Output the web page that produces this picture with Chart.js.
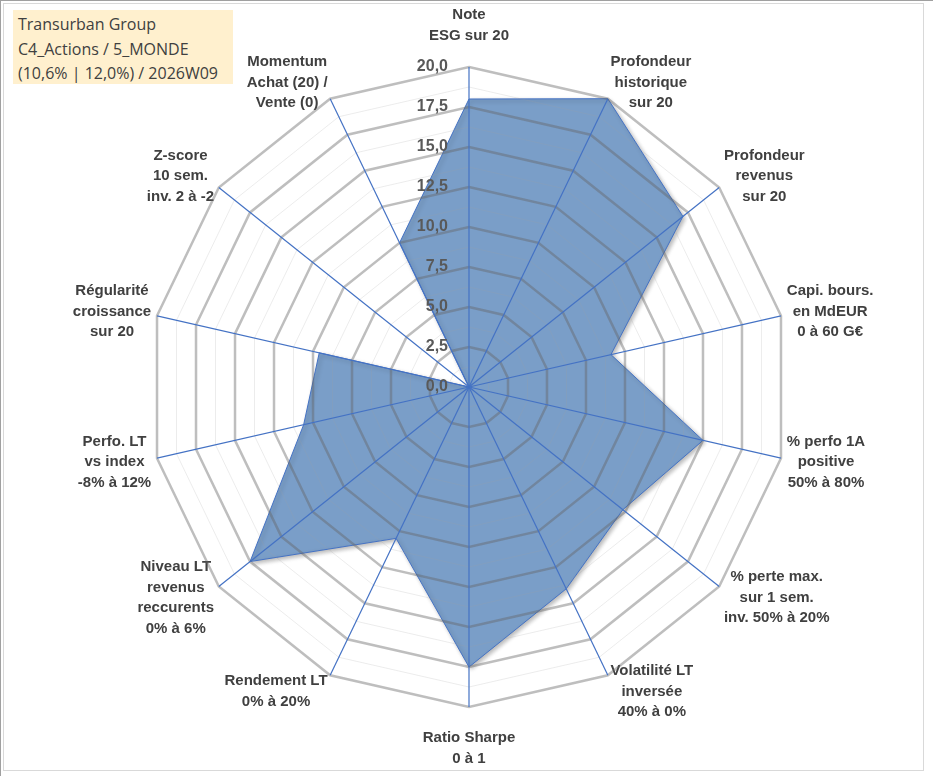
<!DOCTYPE html>
<html lang="fr">
<head>
<meta charset="utf-8">
<title>Transurban Group - radar</title>
<script src="https://cdn.jsdelivr.net/npm/chart.js@4.4.1/dist/chart.umd.min.js"></script>
<style>
  html, body { margin: 0; padding: 0; background: #fff; }
  #page { position: relative; width: 933px; height: 776px; overflow: hidden; }
  #radar { position: absolute; left: 0; top: 0; }
  #outer { position: absolute; left: 0; top: 0; width: 940px; height: 775px;
           border-left: 1px solid #a0a0a0; border-top: 1px solid #a0a0a0; border-bottom: 1px solid #a0a0a0; pointer-events: none; }
  #inner { position: absolute; left: 3px; top: 3px; width: 919px; height: 766px;
           border: 1px solid #d9d9d9; pointer-events: none; }
  #title { position: absolute; left: 13px; top: 10px; width: 220px; height: 74px; box-sizing: border-box;
           padding: 2px 0 0 5px; background: #fff0ce; color: #404040;
           font-family: "Open Sans", sans-serif; font-size: 16px; line-height: 24.5px; white-space: nowrap; }
</style>
</head>
<body>
<div id="page">
  <canvas id="radar" width="933" height="776"></canvas>
  <div id="outer"></div>
  <div id="inner"></div>
  <div id="title"></div>
</div>
<script>
  const titleLines = ["Transurban Group", "C4_Actions / 5_MONDE", "(10,6% | 12,0%) / 2026W09"];

  const axisLabels = [
    ["Note", "ESG sur 20"],
    ["Profondeur", "historique", "sur 20"],
    ["Profondeur", "revenus", "sur 20"],
    ["Capi. bours.", "en MdEUR", "0 à 60 G€"],
    ["% perfo 1A", "positive", "50% à 80%"],
    ["% perte max.", "sur 1 sem.", "inv. 50% à 20%"],
    ["Volatilité LT", "inversée", "40% à 0%"],
    ["Ratio Sharpe", "0 à 1"],
    ["Rendement LT", "0% à 20%"],
    ["Niveau LT", "revenus", "reccurents", "0% à 6%"],
    ["Perfo. LT", "vs index", "-8% à 12%"],
    ["Régularité", "croissance", "sur 20"],
    ["Z-score", "10 sem.", "inv. 2 à -2"],
    ["Momentum", "Achat (20) /", "Vente (0)"],
  ];
  const scoreValues = [18, 20, 17.1, 9.1, 15, 12.3, 14, 17.5, 10.5, 17.5, 10.6, 9.6, 0, 10];

  const scaleMin = 0;
  const scaleMax = 20;
  const majorStep = 2.5;
  const minorStep = 1.25;

  // where the radar sits in the picture
  const CENTER_X = 469;
  const CENTER_Y = 387;
  const RADIUS = 320;

  document.getElementById("title").innerHTML = titleLines.map((t) => `<div>${t}</div>`).join("");

  const isMajor = (v) => Math.abs(v / majorStep - Math.round(v / majorStep)) < 1e-6;
  const formatTick = (v) => v.toFixed(1).replace(".", ",");

  // pin the scale geometry, then put each label block next to its axis end (Excel style)
  function placeScale(scale) {
    scale.xCenter = CENTER_X;
    scale.yCenter = CENTER_Y;
    scale.drawingArea = RADIUS;
    const n = scale._pointLabels.length;
    (scale._pointLabelItems || []).forEach((item, i) => {
      const w = item.right - item.left;
      const h = item.bottom - item.top;
      const a = (Math.PI * 2 * i) / n;
      const sin = Math.sin(a);
      const cos = Math.cos(a);
      let cx, cy;
      if (Math.abs(sin) < 1e-6) {
        const p = scale.getPointPosition(i, RADIUS + 21);
        cx = p.x;
        cy = p.y - (cos * h) / 2;
      } else {
        const p = scale.getPointPosition(i, RADIUS + 6);
        cx = p.x + (Math.sign(sin) * w) / 2;
        cy = p.y - cos * 12;
      }
      Object.assign(item, {
        x: cx,
        y: cy - h / 2,
        textAlign: "center",
        left: cx - w / 2,
        right: cx + w / 2,
        top: cy - h / 2,
        bottom: cy + h / 2,
      });
    });
  }

  // value labels sit left of the vertical axis, right aligned, on top of everything
  const tickLabels = {
    id: "tickLabels",
    afterDraw(chart) {
      const scale = chart.scales.r;
      const ctx = chart.ctx;
      ctx.save();
      ctx.font = "bold 16px 'Liberation Sans'";
      ctx.fillStyle = "#595959";
      ctx.textAlign = "right";
      ctx.textBaseline = "middle";
      scale.ticks.forEach((tick) => {
        if (!isMajor(tick.value)) return;
        const d = scale.getDistanceFromCenterForValue(tick.value);
        ctx.fillText(formatTick(tick.value), scale.xCenter - 21, scale.yCenter - d);
      });
      ctx.restore();
    },
  };

  const polygonShadow = {
    id: "polygonShadow",
    beforeDatasetsDraw(chart) {
      const ctx = chart.ctx;
      ctx.save();
      ctx.shadowColor = "rgba(0,0,0,0.28)";
      ctx.shadowBlur = 4;
      ctx.shadowOffsetX = 2;
      ctx.shadowOffsetY = 2;
    },
    afterDatasetsDraw(chart) {
      chart.ctx.restore();
    },
  };

  new Chart(document.getElementById("radar"), {
    type: "radar",
    data: {
      labels: axisLabels,
      datasets: [
        {
          data: scoreValues,
          backgroundColor: "rgb(122,158,200)",
          borderColor: "#4472C4",
          borderWidth: 1,
          pointRadius: 0,
          tension: 0,
          fill: true,
        },
      ],
    },
    options: {
      responsive: false,
      animation: false,
      devicePixelRatio: 1,
      layout: { padding: 0 },
      plugins: {
        legend: { display: false },
        tooltip: { enabled: false },
      },
      scales: {
        r: {
          min: scaleMin,
          max: scaleMax,
          ticks: { stepSize: minorStep, display: false },
          grid: {
            circular: false,
            z: 1,
            color: (c) => (isMajor(c.tick.value) ? "rgba(100,100,100,0.42)" : "rgba(160,160,160,0.2)"),
            lineWidth: (c) => (isMajor(c.tick.value) ? 2.5 : 1),
          },
          angleLines: { color: "#4472C4", lineWidth: 1.2 },
          pointLabels: {
            color: "#404040",
            padding: 0,
            font: { family: "'Liberation Sans', Arial, sans-serif", size: 15, weight: "bold", lineHeight: 1.37 },
          },
          afterFit: placeScale,
        },
      },
    },
    plugins: [polygonShadow, tickLabels],
  });
</script>
</body>
</html>
